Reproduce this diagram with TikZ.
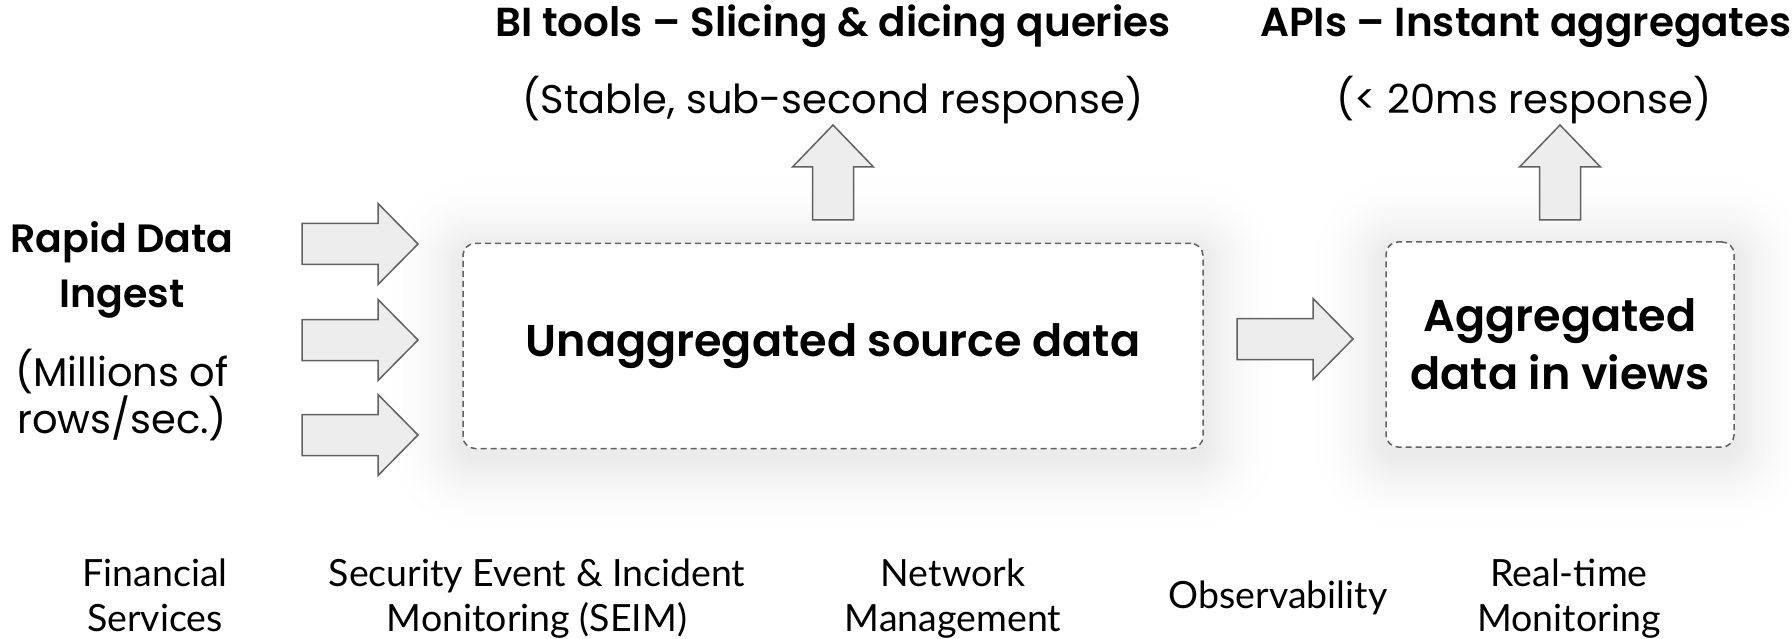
\documentclass[tikz,border=0pt]{standalone}
\usepackage{fontspec}
\setmainfont{Poppins}[BoldFont={Poppins SemiBold}]
\newfontfamily\tagfont{Lato}
\usetikzlibrary{calc}
\pgfdeclarelayer{paper}
\pgfdeclarelayer{glow}
\pgfsetlayers{paper,glow,main}
\begin{document}
\begin{tikzpicture}[x=1pt,y=-1pt,
  stepbox/.style={draw=black!62, line width=1.5pt, dash pattern=on 6pt off 4pt,
    rounded corners=12pt, fill=white},
  blockarrow/.style={draw=black!62, fill=black!7, line width=1.5pt, line join=miter},
  headtxt/.style={font=\bfseries\fontsize{40.5}{48}\selectfont, inner sep=0pt, anchor=base},
  subtxt/.style={font=\fontsize{40}{48}\selectfont, inner sep=0pt, anchor=base},
  sidebold/.style={font=\bfseries\fontsize{39.5}{55}\selectfont, inner sep=0pt, anchor=base},
  sidetxt/.style={font=\fontsize{40}{47}\selectfont, inner sep=0pt, anchor=base},
  boxtxt/.style={font=\bfseries\fontsize{44.5}{58}\selectfont, align=center},
  tagtxt/.style={font=\tagfont\fontsize{37.5}{45}\selectfont, inner sep=0pt, anchor=base},
  rarrow/.pic={\path[blockarrow] (0,-20.5) -- (76,-20.5) -- (76,-40.5) -- (116,0)
    -- (76,40.5) -- (76,20.5) -- (0,20.5) -- cycle;},
  uarrow/.pic={\path[blockarrow] (-20.5,0) -- (-20.5,-53) -- (-40.5,-53) -- (0,-95)
    -- (40.5,-53) -- (20.5,-53) -- (20.5,0) -- cycle;}
]
\begin{pgfonlayer}{paper}
  \fill[white] (0,0) rectangle (1792,639);
\end{pgfonlayer}
\useasboundingbox (0,0) rectangle (1792,639);

% storage boxes
\node[stepbox, boxtxt, minimum width=740pt, minimum height=205pt] (src) at (833,346)
  {Unaggregated source data};
\node[stepbox, boxtxt, minimum width=348pt, minimum height=205pt] (agg) at (1560,344.5)
  {Aggregated\\data in views};

% soft glow round both boxes, outermost ring first
\begin{pgfonlayer}{glow}
  \foreach \b in {src,agg}{
    \foreach \r in {40,39,...,1}{
      \pgfmathsetmacro\k{8*((41-\r)/40)^2}
      \pgfmathsetmacro\rr{12+2*\r}
      \fill[black!\k, rounded corners=\rr pt]
        ($(\b.south west)+(-2*\r,2*\r+8)$) rectangle ($(\b.north east)+(2*\r,-2*\r+8)$);
    }
  }
\end{pgfonlayer}

% block arrows
\pic at (302,244) {rarrow};
\pic at (302,340) {rarrow};
\pic at (302,435) {rarrow};
\pic at (1237,339) {rarrow};
\pic at (833,220) {uarrow};
\pic at (1560,220) {uarrow};

% query consumers
\node[headtxt] (bi) at (833,37) {BI tools – Slicing \& dicing queries};
\node[subtxt] (bisub) at (833,114) {(Stable, sub-second response)};
\node[headtxt] (api) at (1526,37) {APIs – Instant aggregates};
\node[subtxt] (apisub) at (1524,114) {(< 20ms response)};

% ingest side
\node[sidebold] (ing1) at (122,253) {Rapid Data};
\node[sidebold] (ing2) at (122,308) {Ingest};
\node[sidetxt] (rate1) at (122,386) {(Millions of};
\node[sidetxt] (rate2) at (122,433) {rows/sec.)};

% use cases
\node[tagtxt] (fin1) at (155,586) {Financial};
\node[tagtxt] (fin2) at (155,631) {Services};
\node[tagtxt] (sec1) at (537,586) {Security Event \& Incident};
\node[tagtxt] (sec2) at (537,631) {Monitoring (SEIM)};
\node[tagtxt] (net1) at (953,586) {Network};
\node[tagtxt] (net2) at (953,631) {Management};
\node[tagtxt] (obs) at (1278,608) {Observability};
\node[tagtxt] (rt1) at (1569,586) {Real-time};
\node[tagtxt] (rt2) at (1569,631) {Monitoring};
\end{tikzpicture}
\end{document}
